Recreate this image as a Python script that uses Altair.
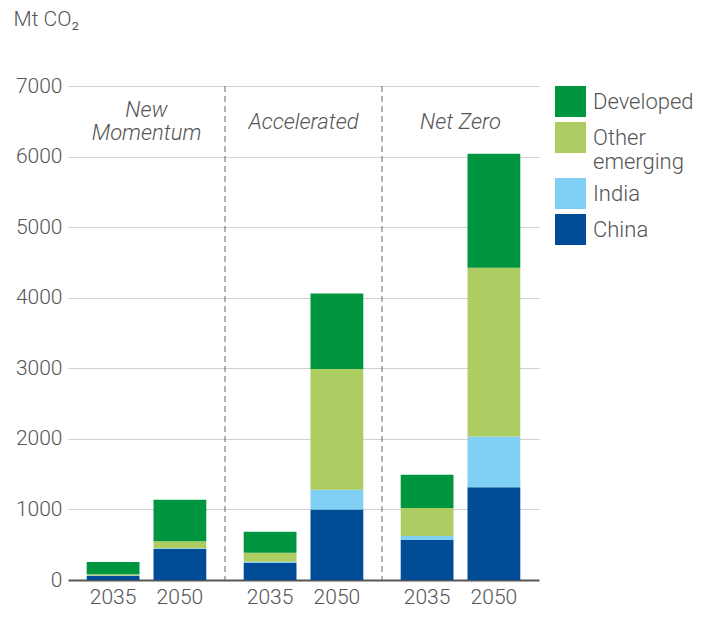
import altair as alt
import pandas as pd

scenarios = ["New Momentum", "Accelerated", "Net Zero"]
scenario_titles = ["New|Momentum", "Accelerated", "Net Zero"]
years = ["2035", "2050"]
regions = ["Developed", "Other emerging", "India", "China"]
colors = ["#00963F", "#ADCC62", "#80CFF4", "#004C97"]

# values per bar: NM 2035, NM 2050, Acc 2035, Acc 2050, NZ 2035, NZ 2050
china = [60, 440, 240, 1000, 570, 1315]
india = [5, 10, 20, 280, 55, 720]
other_emerging = [15, 100, 125, 1710, 395, 2390]
developed = [175, 586, 300, 1070, 470, 1615]

series = {"China": china, "India": india, "Other emerging": other_emerging, "Developed": developed}
stack_rank = {"China": 0, "India": 1, "Other emerging": 2, "Developed": 3}

rows = []
i = 0
for s in scenarios:
    for y in years:
        for r, vals in series.items():
            rows.append({"scenario": s, "year": y, "region": r, "value": vals[i], "rank": stack_rank[r]})
        i += 1
df = pd.DataFrame(rows)

W, H = 471, 494
FONT = "Roboto"
FW = 300
TXT = "#555555"
FSN = 21   # numbers
FSW = 22   # words

x_enc = alt.X("scenario:N", sort=scenarios,
              scale=alt.Scale(paddingInner=0, paddingOuter=0),
              axis=alt.Axis(title=None, labels=False, ticks=False, domain=True,
                            domainColor="#555555", domainWidth=2))
xoff = alt.XOffset("year:N", sort=years, scale=alt.Scale(paddingInner=0.21, paddingOuter=0.28))

bars = alt.Chart(df).mark_bar().encode(
    x=x_enc,
    xOffset=xoff,
    y=alt.Y("value:Q", stack="zero",
            scale=alt.Scale(domain=[0, 7000], nice=False),
            axis=alt.Axis(values=list(range(0, 7001, 1000)), format="d", title="Mt CO₂",
                          titleAngle=0, titleAlign="left", titleBaseline="middle",
                          titleX=-55, titleY=-67, titleFontSize=FSN, titleFont=FONT,
                          titleFontWeight=FW, titleColor=TXT,
                          labelFontSize=FSN, labelFont=FONT, labelFontWeight=FW, labelColor=TXT,
                          labelPadding=6, domain=False, ticks=False,
                          gridColor="#d0d0d0", gridWidth=1)),
    color=alt.Color("region:N", sort=regions,
                    scale=alt.Scale(domain=regions, range=colors),
                    legend=alt.Legend(title=None, symbolType="square", symbolSize=961,
                                      symbolStrokeWidth=0, labelFontSize=FSW, labelFont=FONT,
                                      labelFontWeight=FW,
                                      labelColor=TXT, labelOffset=7, rowPadding=5,
                                      offset=16, orient="right",
                                      labelExpr="datum.label == 'Other emerging' ? ['Other', 'emerging'] : datum.label")),
    order=alt.Order("rank:Q", sort="ascending"),
)

sep_df = pd.DataFrame({"scenario": ["Accelerated", "Net Zero"]})
seps = alt.Chart(sep_df).mark_rule(color="#666666", strokeDash=[6, 4], strokeWidth=1).encode(
    x=alt.X("scenario:N", sort=scenarios, bandPosition=0),
    y=alt.value(0), y2=alt.value(H),
)

title_df = pd.DataFrame({"scenario": scenarios, "t": scenario_titles})
title_base = alt.Chart(title_df).transform_calculate(
    lines="split(datum.t, '|')", n="length(split(datum.t, '|'))"
)
title_style = dict(fontSize=FSW, font=FONT, fontWeight=FW, fontStyle="italic", color=TXT,
                   baseline="middle", lineHeight=23)
titles1 = title_base.transform_filter("datum.n == 1").mark_text(**title_style).encode(
    x=alt.X("scenario:N", sort=scenarios),
    y=alt.value(36),
    text="lines:N",
)
titles2 = title_base.transform_filter("datum.n == 2").mark_text(**title_style).encode(
    x=alt.X("scenario:N", sort=scenarios),
    y=alt.value(24),
    text="lines:N",
)

year_df = pd.DataFrame([{"scenario": s, "year": y} for s in scenarios for y in years])
year_labels = alt.Chart(year_df).mark_text(fontSize=FSN, font=FONT, fontWeight=FW, color=TXT,
                                           baseline="middle").encode(
    x=alt.X("scenario:N", sort=scenarios),
    xOffset=alt.XOffset("year:N", sort=years),
    y=alt.value(H + 18),
    text="year:N",
)

chart = alt.layer(seps, bars, titles1, titles2, year_labels).properties(
    width=W, height=H,
    autosize=alt.AutoSizeParams(type="none"),
    padding={"left": 60, "top": 78, "right": 160, "bottom": 29},
).configure_view(stroke=None).configure_legend(labelLimit=200)

chart.save("out.html", embed_options={"renderer": "svg", "actions": False})
